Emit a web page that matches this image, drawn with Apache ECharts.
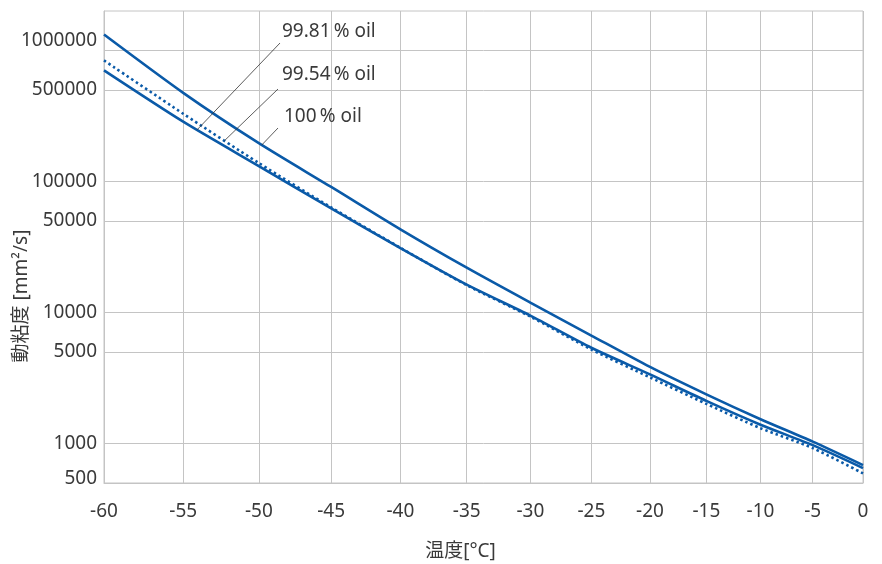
<!DOCTYPE html>
<html>
<head>
<meta charset="utf-8">
<script src="https://cdn.jsdelivr.net/npm/echarts@6/dist/echarts.min.js"></script>
<style>
  html, body { margin: 0; padding: 0; background: #fff; }
  #chart { width: 882px; height: 564px; }
</style>
</head>
<body>
<div id="chart"></div>
<script>
// 温度 [°C] と動粘度 [mm²/s]
const temps = [-60, -55, -50, -45, -40, -35, -30, -25, -20, -15, -10, -5, 0];
const oil100 = [1323000, 474900, 196100, 90800, 43110, 21970, 11900, 6675, 3845, 2375, 1533, 1034, 685];
const oil9981 = [704500, 285900, 131100, 62300, 31010, 16310, 9475, 5383, 3372, 2117, 1393, 972, 650];
const oil9954 = [839000, 328800, 138200, 63390, 31180, 16170, 9311, 5224, 3200, 2008, 1310, 923, 592];
const yTicks = [500, 1000, 5000, 10000, 50000, 100000, 500000, 1000000];
const yRange = [500, 2000000];

// 注記（ラベル, 系列, 引出線の先の温度）
const notes = [
  { text: '99.81\u2009% oil', data: oil9981, at: -54.1, tx: 282, ty: 32, lx: 280, ly: 43 },
  { text: '99.54\u2009% oil', data: oil9954, at: -52.3, tx: 282, ty: 75, lx: 278, ly: 89 },
  { text: '100\u2009% oil', data: oil100, at: -49.8, tx: 284, ty: 117, lx: 278, ly: 128 }
];

const FONT = '"Noto Sans", "Noto Sans CJK JP", sans-serif';
const FS = 19;
const TEXT = '#3a3a3a';
const GRID = '#c4c4c4';
const BLUE = '#0a5aa8';

// 横軸は 1/T（絶対温度の逆数）、縦軸は log10
const toX = t => 1000 / (t + 273.15);
const toY = v => Math.log10(v);
const pts = arr => temps.map((t, i) => [toX(t), toY(arr[i])]);

const valueAt = (arr, t) => {
  let i = 0;
  while (i < temps.length - 2 && temps[i + 1] < t) i++;
  const f = (toX(t) - toX(temps[i])) / (toX(temps[i + 1]) - toX(temps[i]));
  return toY(arr[i]) + f * (toY(arr[i + 1]) - toY(arr[i]));
};

const chart = echarts.init(document.getElementById('chart'));

const option = {
  animation: false,
  textStyle: { fontFamily: FONT },
  grid: {
    left: 104, right: 19, top: 11, bottom: 81,
    containLabel: false, outerBoundsMode: 'none',
    show: true, borderColor: GRID, borderWidth: 1
  },
  xAxis: {
    type: 'value',
    inverse: true,
    min: toX(temps[temps.length - 1]),
    max: toX(temps[0]),
    name: '温度[°C]',
    nameLocation: 'middle',
    nameGap: 59,
    nameTextStyle: { fontSize: FS, color: TEXT, fontFamily: FONT, padding: [0, 46, 0, 0] },
    axisLine: { show: true, lineStyle: { color: GRID, width: 1 } },
    axisTick: { show: false, customValues: temps.map(toX) },
    axisLabel: {
      customValues: temps.map(toX),
      formatter: v => String(Math.round(1000 / v - 273.15)),
      fontSize: FS, color: TEXT, fontFamily: FONT, margin: 19
    },
    splitLine: { show: true, lineStyle: { color: GRID, width: 1 } }
  },
  yAxis: {
    type: 'value',
    min: toY(yRange[0]),
    max: toY(yRange[1]),
    axisLine: { show: true, lineStyle: { color: GRID, width: 1 } },
    axisTick: { show: false, customValues: yTicks.map(toY) },
    axisLabel: {
      customValues: yTicks.map(toY),
      formatter: v => {
        const n = Math.round(Math.pow(10, v));
        if (n === 1000000) return '{up|' + n + '}';
        if (n === 500) return '{lo|' + n + '}';
        return String(n);
      },
      rich: {
        up: { fontSize: FS, color: TEXT, fontFamily: FONT, padding: [0, 0, 20, 0] },
        lo: { fontSize: FS, color: TEXT, fontFamily: FONT, padding: [0, 0, 8, 0] }
      },
      fontSize: FS, color: TEXT, fontFamily: FONT, margin: 7
    },
    splitLine: { show: true, lineStyle: { color: GRID, width: 1 } }
  },
  series: [
    {
      name: '100 % oil', type: 'line', data: pts(oil100), showSymbol: false, smooth: 0.25,
      lineStyle: { color: BLUE, width: 2.6 }
    },
    {
      name: '99.54 % oil', type: 'line', data: pts(oil9954), showSymbol: false, smooth: 0.25,
      lineStyle: { color: BLUE, width: 2.6, type: [2.5, 3] }
    },
    {
      name: '99.81 % oil', type: 'line', data: pts(oil9981), showSymbol: false, smooth: 0.25,
      lineStyle: { color: BLUE, width: 2.6 }
    }
  ]
};

chart.setOption(option);

// 縦軸名、引出線と注記
const graphics = [{
  type: 'text', x: 22, y: 296, rotation: Math.PI / 2,
  style: { text: '動粘度 [mm²/s]', fill: TEXT, font: FS + 'px ' + FONT, align: 'center', verticalAlign: 'middle' }
}];
notes.forEach(n => {
  const p = chart.convertToPixel({ gridIndex: 0 }, [toX(n.at), valueAt(n.data, n.at)]);
  graphics.push({
    type: 'line', z: 100,
    shape: { x1: n.lx, y1: n.ly, x2: p[0], y2: p[1] },
    style: { stroke: '#333', lineWidth: 0.8 }
  });
  graphics.push({
    type: 'text', z: 100, x: n.tx, y: n.ty,
    style: { text: n.text, fill: TEXT, font: FS + 'px ' + FONT, verticalAlign: 'middle' }
  });
});
chart.setOption({ graphic: graphics });
</script>
</body>
</html>
